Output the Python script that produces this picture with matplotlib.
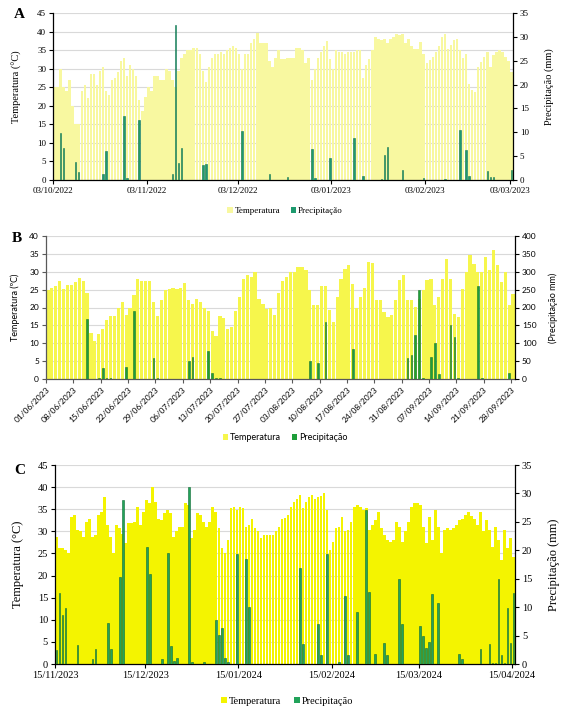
import matplotlib
matplotlib.use("Agg")
import matplotlib.pyplot as plt
from matplotlib.patches import Patch
import numpy as np
import pandas as pd

# ---- Panel A: 03/10/2022 - 03/03/2023 ----
a_start = "2022-10-03"
a_temp = [25, 25, 30, 25, 24, 27, 20, 15, 15, 24,
          25.5, 22, 28.5, 28.5, 25.5, 29.5, 30.5, 24, 23, 27,
          27.5, 29, 32, 33, 28, 31, 30, 28, 21.5, 18.5,
          22.5, 25, 24, 28, 28, 27, 27, 30, 29.5, 27,
          25, 29.5, 33, 34, 35, 35, 35.5, 35.5, 34, 29.5,
          26.5, 30.5, 33, 34, 34, 34.5, 34, 35, 35.5, 36,
          35.5, 34, 30, 34, 34, 37, 38, 39.5, 37, 37,
          37, 32, 30.5, 33, 35, 32.7, 32.7, 33, 33, 33,
          35.5, 35.5, 35, 31.5, 33, 27, 30, 33, 34.5, 36,
          37.5, 32.5, 30, 35, 34.5, 34.5, 34, 34.5, 34.5, 34.5,
          35, 35, 27.4, 31, 32.7, 35, 38.5, 38, 37.6, 38,
          36.8, 38, 38.5, 39.4, 39, 39.4, 36.8, 38, 36, 35.4,
          35.4, 37.2, 34, 31.4, 32.3, 33.2, 34.5, 36, 38.5, 39.4,
          35.4, 36.3, 37.6, 38, 35, 33, 34, 26, 24.2, 23.8,
          30.5, 31.8, 33.2, 34.5, 30.5, 33.6, 34.5, 35, 34.5, 33.2,
          32, 29]
a_rain = [0, 0, 9.8, 6.7, 0, 0, 0, 3.7, 1.6, 0,
          0, 0, 0, 0, 0, 0, 1.2, 6.0, 0, 0,
          0, 0, 0, 13.4, 0.4, 0, 0, 0, 12.5, 0,
          0, 0, 0, 0, 0, 0, 0, 0, 0, 1.2,
          32.4, 3.5, 6.8, 0, 0, 0, 0, 0, 0, 3.1,
          3.3, 0, 0, 0, 0, 0, 0, 0, 0, 0,
          0, 0, 10.3, 0, 0, 0, 0, 0, 0, 0,
          0, 1.2, 0, 0, 0, 0, 0, 0.6, 0, 0,
          0, 0, 0, 0, 0, 6.5, 0.5, 0, 0, 0,
          0, 4.6, 0, 0, 0, 0, 0, 0, 0, 8.9,
          0, 0, 0.8, 0, 0, 0, 0, 0, 0.3, 5.3,
          7.0, 0, 0, 0, 0, 2.0, 0, 0, 0, 0,
          0, 0, 0.5, 0, 0, 0, 0, 0, 0, 0.3,
          0, 0, 0, 0, 10.5, 0, 6.2, 0.8, 0, 0,
          0, 0, 0, 1.8, 0.6, 0.6, 0, 0, 0, 0,
          0, 2.0]
a_ticks = ["2022-10-03", "2022-11-03", "2022-12-03",
           "2023-01-03", "2023-02-03", "2023-03-03"]

# ---- Panel B: 01/06/2023 - 28/09/2023 ----
b_start = "2023-06-01"
b_temp = [25, 25.5, 26, 27.5, 25.3, 26.4, 26.4, 27, 28.3, 27.5,
          24, 13, 10.5, 12.5, 14, 16.5, 17.5, 17.5, 20, 21.5,
          18, 20, 23.5, 28, 27.5, 27.5, 27.5, 21.5, 17.5, 22,
          25, 25.3, 25.5, 25.3, 25.5, 26.8, 22, 21, 22.5, 21.5,
          20, 19, 13.5, 12, 17.5, 17, 14, 14.5, 19, 23,
          28, 29, 28.5, 29.8, 22.5, 21, 19.5, 20, 18, 24,
          27.5, 28.5, 30, 30, 31.3, 31.3, 30.6, 24.8, 20.6, 20.6,
          26, 26, 19.2, 16, 23, 28, 30.9, 32, 26.7, 20,
          23, 25.5, 32.7, 32.5, 22, 22, 18.8, 17.4, 18, 22,
          27.6, 29, 22, 22, 20.1, 22.5, 25, 27.6, 28, 20.6,
          23, 28, 33.7, 28, 18.3, 17.4, 25.3, 30, 34.6, 32.3,
          30, 30, 34, 30.4, 36, 31.8, 27, 30, 20.6, 23.9]
b_rain = [0, 0, 0, 0, 0, 0, 0, 0, 0, 0,
          167, 0, 0, 4, 31, 2, 2, 0, 0, 0,
          34, 0, 190, 0, 0, 0, 0, 59, 4, 0,
          0, 0, 0, 0, 0, 0, 50, 61, 0, 0,
          0, 79, 18, 2, 2, 0, 0, 0, 0, 0,
          0, 0, 0, 0, 0, 0, 0, 0, 0, 0,
          0, 0, 0, 0, 0, 0, 0, 49, 0, 46,
          0, 160, 0, 0, 0, 0, 0, 0, 84, 0,
          0, 0, 0, 0, 0, 0, 0, 0, 0, 0,
          0, 0, 59, 68, 122, 250, 2, 0, 61, 100,
          13, 0, 0, 151, 118, 3, 0, 0, 0, 0,
          260, 2, 0, 0, 0, 0, 0, 0, 16, 0]
b_ticks = pd.date_range("2023-06-01", "2023-09-28", freq="7D")

# ---- Panel C: 15/11/2023 - 15/04/2024 ----
c_start = "2023-11-15"
c_temp = [28.8, 26.2, 26.2, 25.8, 25, 33.3, 33.7, 30.3, 30, 28.8,
          32.2, 32.9, 28.8, 29.2, 33.7, 34.4, 37.8, 31.4, 28.8, 25,
          31.4, 30.7, 29.5, 27.3, 31.8, 31.8, 32.2, 35.6, 31.4, 34.4,
          37.1, 36.3, 40, 36.7, 32.9, 32.6, 34.1, 34.8, 34.1, 28.8,
          30, 31, 31, 36.3, 36, 28.4, 30.3, 34.1, 33.7, 32.2,
          31, 32.2, 35.6, 34.4, 30.7, 26.2, 25, 28, 35.2, 35.6,
          34.8, 35.6, 35.2, 31, 31.4, 32.9, 30.7, 30, 28.4, 29.2,
          29.2, 29.2, 29.2, 30, 31, 32.9, 33, 33.7, 35.6, 36.7,
          37.4, 38.2, 35.2, 36.7, 37.8, 38.2, 37.4, 37.8, 38, 38.6,
          34.8, 25.8, 27.7, 30.7, 31, 33.3, 30, 30.3, 32.2, 35.6,
          35.9, 35.5, 34.8, 35.2, 30.3, 31.4, 32.6, 34.4, 30.7, 29.2,
          28, 27.7, 28, 32.2, 31, 27.7, 30, 32.2, 35.6, 36.3,
          36.3, 36, 31, 27.3, 33.3, 28, 34.8, 31, 25, 30.3,
          30.7, 30.3, 30.8, 31.4, 32.6, 32.9, 33.7, 34.4, 33.5, 32.9,
          31.4, 34.4, 30, 32.6, 30.3, 26.5, 31, 28, 23.5, 30.3,
          26.2, 28.4, 24.3]
c_rain = [2.5, 12.5, 8.7, 9.8, 0, 0, 0, 3.3, 0, 0,
          0, 0, 0.8, 2.6, 0, 0, 0, 7.2, 2.6, 0,
          0, 15.3, 28.9, 0, 0, 0, 0, 0, 0, 0,
          20.6, 15.8, 0, 0, 0, 0.8, 0, 19.6, 3.2, 0.5,
          1.0, 0, 0, 0, 31.2, 0.3, 0, 0, 0, 0.4,
          0, 0, 0, 7.8, 5.1, 6.3, 1.0, 0.3, 0, 0,
          19.3, 0, 0, 18.5, 10.1, 0, 0, 0, 0, 0,
          0, 0, 0, 0, 0, 0, 0, 0, 0, 0,
          0, 16.8, 3.6, 0, 0, 0, 0, 7.0, 1.6, 0,
          19.3, 0, 0, 0, 0.4, 0, 11.9, 1.6, 0, 0,
          9.2, 0, 0, 27.0, 12.6, 0, 1.8, 0, 0, 3.7,
          1.6, 0, 0, 0, 14.9, 7.0, 0, 0, 0, 0,
          0, 6.6, 5.0, 2.9, 3.8, 12.3, 0, 10.8, 0, 0,
          0, 0, 0, 0, 1.8, 0.8, 0, 0, 0, 0,
          0, 2.6, 0, 0, 3.6, 0.2, 0.2, 14.9, 1.6, 0.2,
          9.9, 3.7, 12.5]
c_ticks = ["2023-11-15", "2023-12-15", "2024-01-15",
           "2024-02-15", "2024-03-15", "2024-04-15"]

legend_labels = ["Temperatura", "Precipitação"]

W, H = 571, 720
fig = plt.figure(figsize=(W / 100, H / 100), dpi=100)


def px_rect(x0, y0, x1, y1):
    return [x0 / W, 1 - y1 / H, (x1 - x0) / W, (y1 - y0) / H]


def draw_panel(rect, start, temp, rain, tick_dates, tmax, tstep, rmax, rstep,
               yellow, green, green_edge, font, tick_fs, label_fs,
               ylabel_l, ylabel_r, letter, letter_xy, legend_xy, legend_fs,
               rotate=False, spine_col="black", label_y=0.5, twidth=0.82, rwidth=0.5):
    n = len(temp)
    first = pd.Timestamp(start)
    x = np.arange(n) + 0.5

    ax = fig.add_axes(px_rect(*rect))
    ax.bar(x, temp, width=twidth, color=yellow, linewidth=0, zorder=2)
    ax.set_xlim(0, n)
    ax.set_ylim(0, tmax)
    ax.set_yticks(np.arange(0, tmax + 0.1, tstep))
    ax.yaxis.grid(True, color="#d9d9d9", lw=0.8)
    ax.set_axisbelow(True)

    tick_dates = [pd.Timestamp(d) for d in tick_dates]
    ax.set_xticks([(d - first).days for d in tick_dates])
    labels = [d.strftime("%d/%m/%Y") for d in tick_dates]
    if rotate:
        ax.set_xticklabels(labels, rotation=45, ha="right", rotation_mode="anchor",
                           family=font, fontsize=tick_fs)
    else:
        ax.set_xticklabels(labels, family=font, fontsize=tick_fs)
    for lab in ax.get_yticklabels():
        lab.set_family(font)
        lab.set_fontsize(tick_fs)
    ax.tick_params(axis="both", length=3, width=0.8, color=spine_col, pad=2)
    for s in ["top", "right"]:
        ax.spines[s].set_visible(False)
    for s in ["left", "bottom"]:
        ax.spines[s].set_color(spine_col)
        ax.spines[s].set_linewidth(0.9)
    ax.set_ylabel(ylabel_l, family=font, fontsize=label_fs)
    ax.yaxis.set_label_coords(-(rect[0] - letter_xy[2]) / (rect[2] - rect[0]), label_y)

    ax2 = ax.twinx()
    rain = np.array(rain, dtype=float)
    wet = rain > 0
    ax2.bar(x[wet], rain[wet], width=rwidth, color=green, edgecolor=green_edge,
            linewidth=0.4, zorder=3)
    ax2.set_ylim(0, rmax)
    ax2.set_yticks(np.arange(0, rmax + 0.1, rstep))
    for lab in ax2.get_yticklabels():
        lab.set_family(font)
        lab.set_fontsize(tick_fs)
    ax2.tick_params(axis="y", length=3, width=0.8, pad=2)
    for s in ["top", "left", "bottom"]:
        ax2.spines[s].set_visible(False)
    ax2.spines["right"].set_linewidth(0.9)
    ax2.set_ylabel(ylabel_r, family=font, fontsize=label_fs)
    ax2.yaxis.set_label_coords((letter_xy[3] - rect[0]) / (rect[2] - rect[0]), label_y)

    fig.text(letter_xy[0] / W, 1 - letter_xy[1] / H, letter, family="Liberation Serif",
             fontsize=11, fontweight="bold", ha="center", va="center")

    handles = [Patch(facecolor=yellow), Patch(facecolor=green)]
    fig.legend(handles, legend_labels, loc="center",
               bbox_to_anchor=(legend_xy[0] / W, 1 - legend_xy[1] / H),
               ncol=2, frameon=False, handlelength=0.6, handleheight=0.6,
               handletextpad=0.2, columnspacing=1.2,
               prop={"family": font, "size": legend_fs})


draw_panel((53, 13, 513, 180), a_start, a_temp, a_rain, a_ticks, 45, 5, 35, 5,
           "#F8F8A0", "#1E9A6E", "#137552", "Liberation Serif", 6.5, 7.5,
           "Temperatura (°C)", "Precipitação (mm)", "A", (19, 15, 22, 544),
           (285, 211), 6.5, label_y=0.56)

draw_panel((46, 236, 515, 379), b_start, b_temp, b_rain, b_ticks, 40, 5, 400, 50,
           "#F6F64C", "#1E9E3A", "#16762A", "Lato", 6, 6.5,
           "Temperatura (ºC)", "(Precipitação mm)", "B", (17, 239, 20, 548),
           (285, 438), 6.5, rotate=True, spine_col="#595959", rwidth=0.45)

draw_panel((55, 465, 515, 664), c_start, c_temp, c_rain, c_ticks, 45, 5, 35, 5,
           "#F4F400", "#22A35A", "#0E6B34", "Liberation Serif", 7.5, 9,
           "Temperatura (°C)", "Precipitação (mm)", "C", (20, 470, 24, 548),
           (287, 701), 7.5, twidth=0.9, rwidth=0.6)

fig.savefig("out.png", dpi=100)
